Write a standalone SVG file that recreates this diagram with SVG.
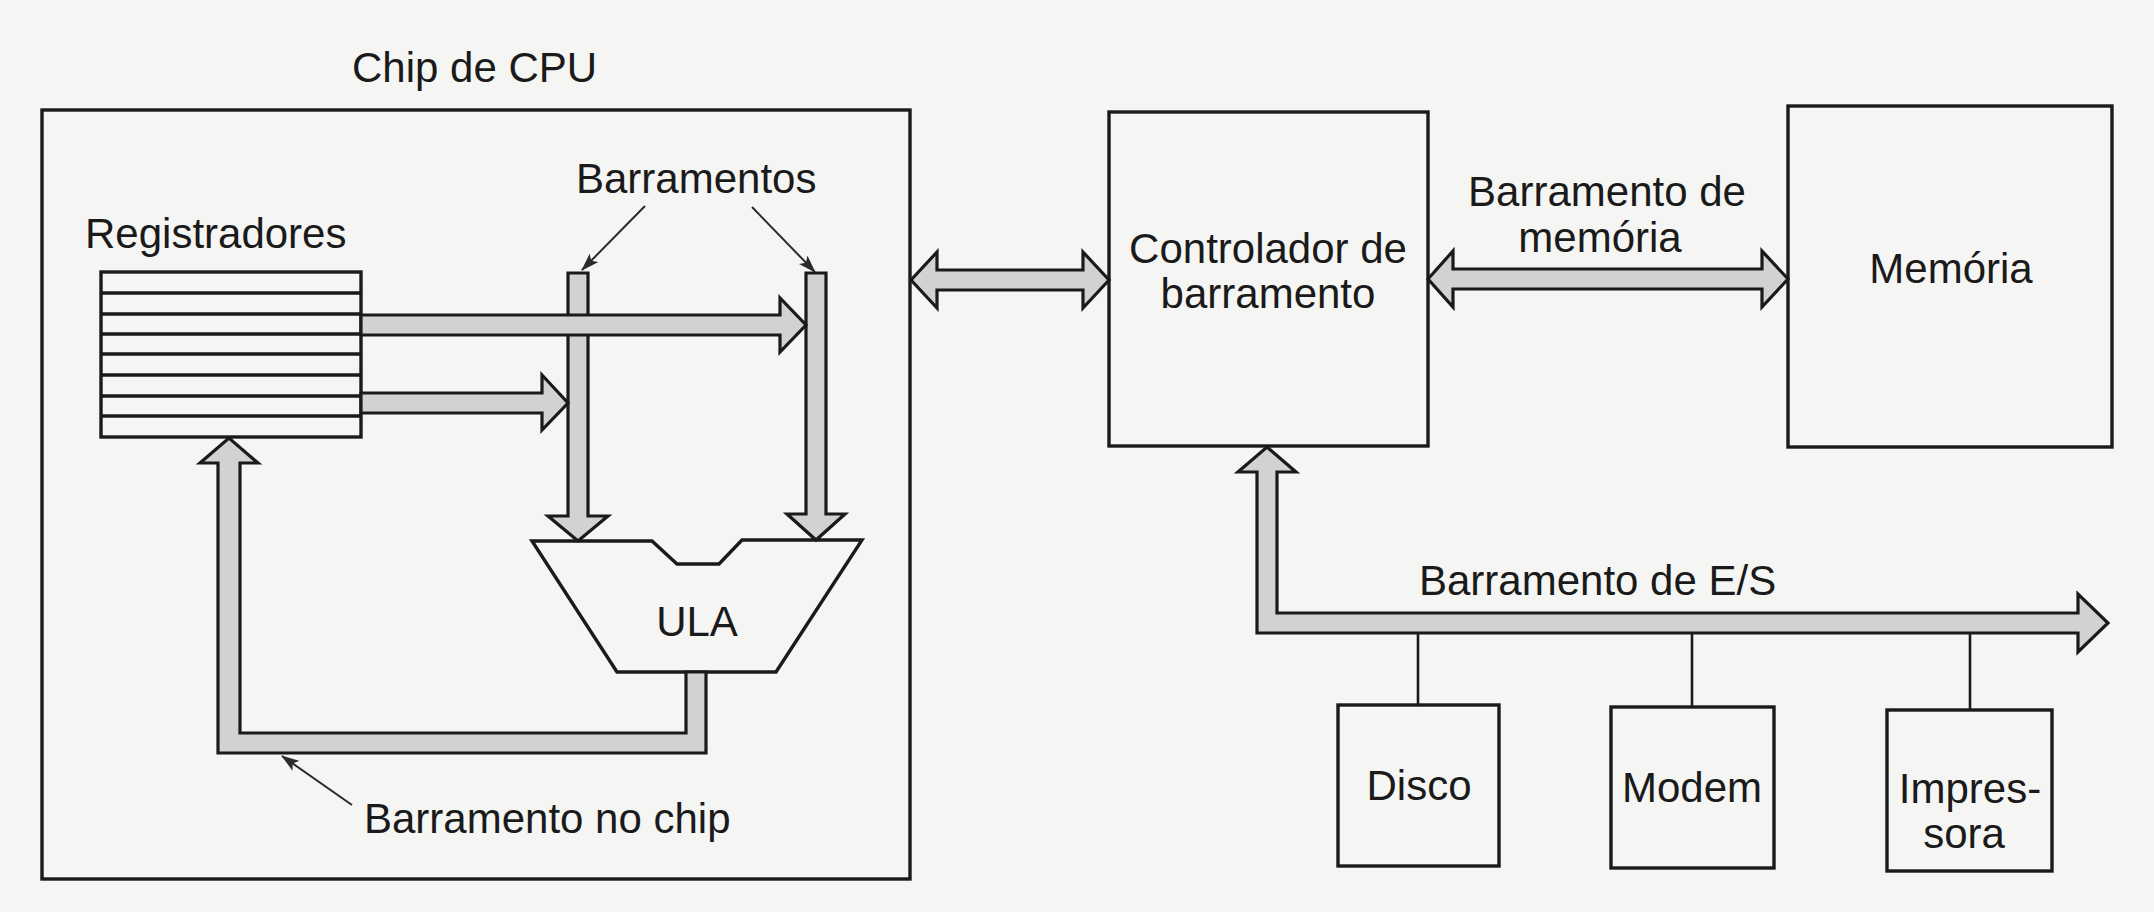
<svg xmlns="http://www.w3.org/2000/svg" width="2154" height="912" viewBox="0 0 2154 912">
<defs>
<style>
.bg{fill:#f5f5f3}
.box{fill:none;stroke:#1a1a1a;stroke-width:3.4}
.bus{fill:#d2d2d0;stroke:#1a1a1a;stroke-width:3.2;stroke-linejoin:miter}
.thin{fill:none;stroke:#1a1a1a;stroke-width:2.6}
.ptr{fill:none;stroke:#2a2a2a;stroke-width:2;marker-end:url(#ah)}
.t{font-family:"Liberation Sans",Arial,Helvetica,sans-serif;font-size:42px;fill:#1a1a1a}
.m{text-anchor:middle}
</style>
<marker id="ah" markerWidth="18" markerHeight="12" refX="17" refY="6" orient="auto" markerUnits="userSpaceOnUse">
<path d="M0,0 L18,6 L0,12 L4,6 Z" fill="#2a2a2a"/>
</marker>
</defs>
<rect class="bg" x="0" y="0" width="2154" height="912"/>

<text class="t" x="352" y="82">Chip de CPU</text>

<g id="cpu-chip">
<rect class="box" x="42" y="110" width="868" height="769"/>
</g>

<g id="registradores">
<text class="t" x="85" y="248">Registradores</text>
<rect class="box" x="101" y="272" width="260" height="165"/>
<path class="box" d="M101,293H361M101,314H361M101,334H361M101,354H361M101,375H361M101,396H361M101,416H361"/>
</g>

<g id="ula">
<polygon class="box" points="532,541 652,541 677,564 719,564 742,540 862,540 776,672 617,672"/>
<text class="t m" x="697" y="636">ULA</text>
</g>

<g id="controlador">
<rect class="box" x="1109" y="112" width="319" height="334"/>
<text class="t m" x="1268" y="263">Controlador de</text>
<text class="t m" x="1268" y="308">barramento</text>
</g>

<g id="memoria">
<rect class="box" x="1788" y="106" width="324" height="341"/>
<text class="t m" x="1951" y="283">Memória</text>
</g>

<g id="disco">
<rect class="box" x="1338" y="705" width="161" height="161"/>
<text class="t m" x="1419" y="800">Disco</text>
</g>
<g id="modem">
<rect class="box" x="1611" y="707" width="163" height="161"/>
<text class="t m" x="1692" y="802">Modem</text>
</g>
<g id="impressora">
<rect class="box" x="1887" y="710" width="165" height="161"/>
<text class="t m" x="1970" y="803">Impres-</text>
<text class="t m" x="1964" y="848">sora</text>
</g>

<g id="connectors">
<polygon class="bus" points="568,273 588,273 588,516 608,516 578,541 548,516 568,516"/>
<polygon class="bus" points="806,273 826,273 826,514 845,514 816,540 787,514 806,514"/>
<polygon class="bus" points="361,315 780,315 780,298 806,325 780,352 780,335 361,335"/>
<polygon class="bus" points="361,393 542,393 542,375 568,403 542,430 542,413 361,413"/>
<polygon class="bus" points="686,672 706,672 706,753 218,753 218,463 200,463 229,438 258,463 240,463 240,733 686,733"/>
<polygon class="bus" points="911,280 937,252 937,270 1083,270 1083,252 1109,280 1083,308 1083,290 937,290 937,308"/>
<polygon class="bus" points="1428,279 1453,251 1453,269 1762,269 1762,251 1788,279 1762,307 1762,289 1453,289 1453,307"/>
<polygon class="bus" points="1257,633 1257,472 1238,472 1267,447 1296,472 1277,472 1277,613 2078,613 2078,594 2108,623 2078,652 2078,633"/>
<path class="thin" d="M1418,634V705M1692,634V707M1970,634V710"/>
<line class="ptr" x1="645" y1="206" x2="582" y2="270"/>
<line class="ptr" x1="752" y1="207" x2="815" y2="272"/>
<line class="ptr" x1="352" y1="805" x2="282" y2="756"/>
</g>

<text class="t" x="576" y="193">Barramentos</text>
<text class="t" x="364" y="833">Barramento no chip</text>
<text class="t m" x="1607" y="206">Barramento de</text>
<text class="t m" x="1600" y="252">memória</text>
<text class="t" x="1419" y="595">Barramento de E/S</text>
</svg>
